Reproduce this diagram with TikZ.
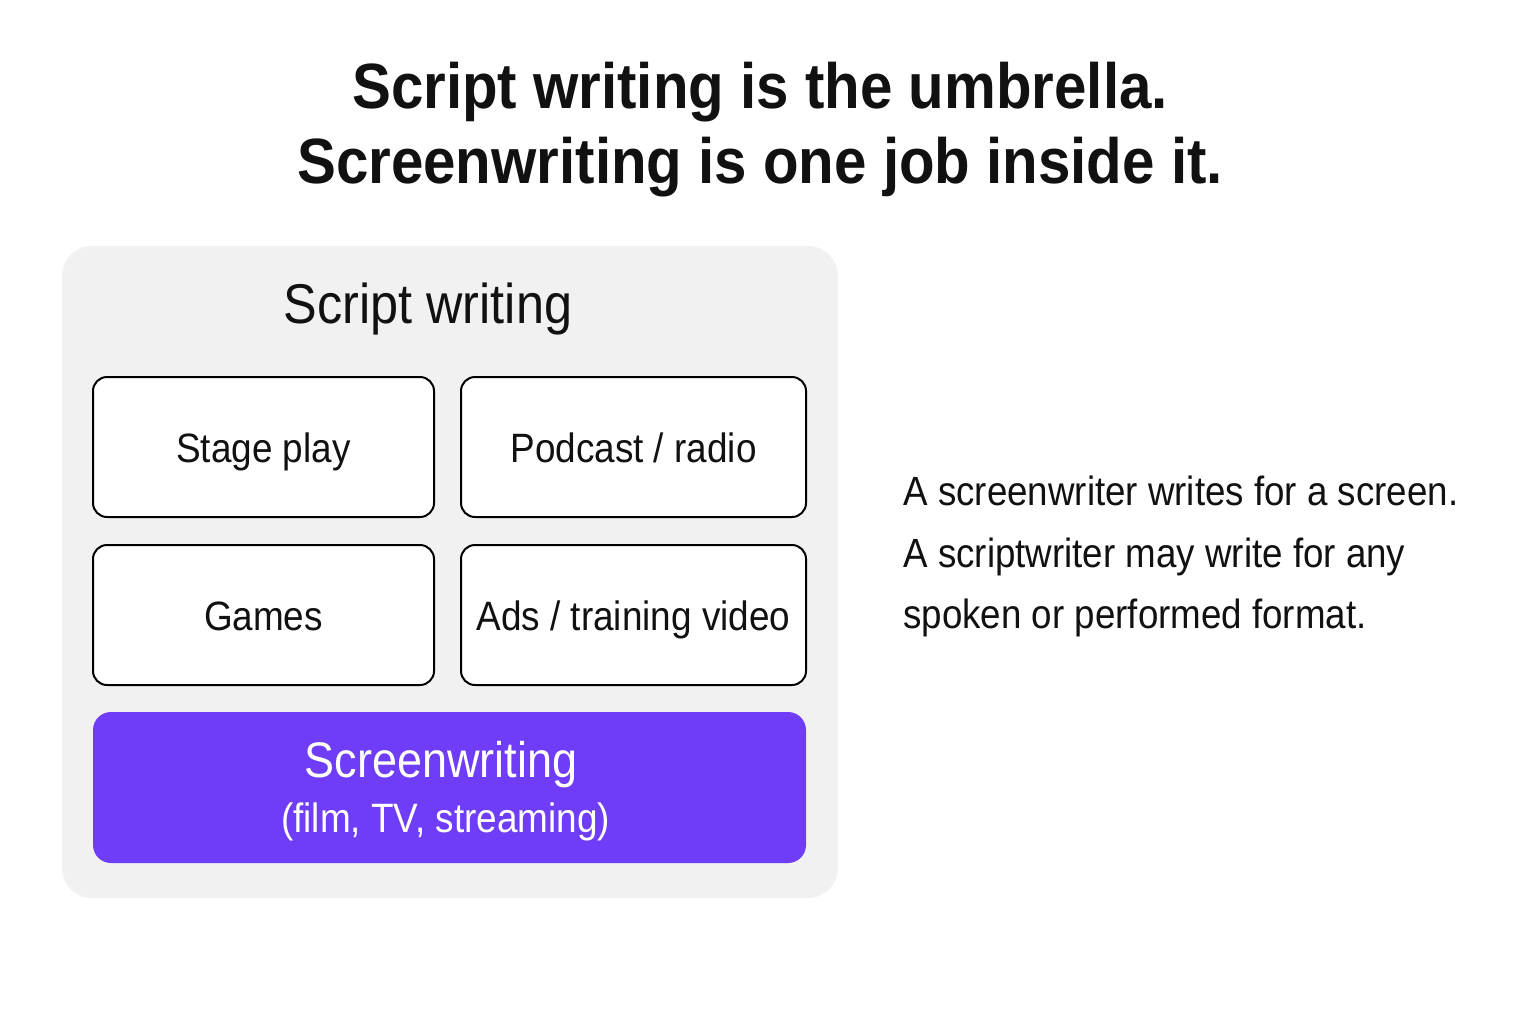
\documentclass[tikz,border=0pt]{standalone}
\usepackage{fontspec}
\setmainfont[FakeStretch=0.9]{Liberation Sans}
\newfontfamily\headfont[FakeStretch=0.91]{Liberation Sans}
\usepackage{tikz}
\usetikzlibrary{positioning}
\definecolor{panelgray}{HTML}{F1F1F1}
\definecolor{screenviolet}{HTML}{6F3DF8}
\definecolor{inkblack}{HTML}{111111}
\tikzset{
    headline/.style={anchor=base, text=inkblack, font=\headfont\bfseries\fontsize{32}{38}\selectfont},
    panel/.style={fill=panelgray, rounded corners=15pt, minimum width=388pt, minimum height=326pt, inner sep=0pt},
    genre/.style={draw=black, line width=1pt, fill=white, rounded corners=7pt, text=inkblack,
        minimum width=#1, minimum height=70pt, inner sep=0pt, text height=20pt, text depth=5pt,
        font=\fontsize{20.5}{24}\selectfont},
    genre/.default={170.5pt},
    screenbox/.style={fill=screenviolet, rounded corners=9pt, minimum width=356.5pt, minimum height=75.5pt, inner sep=0pt},
    note/.style={anchor=base west, text=inkblack, inner sep=0pt, font=\fontsize{20.4}{24}\selectfont},
}
\begin{document}
\begin{tikzpicture}[x=0.5pt,y=-0.5pt]
    \useasboundingbox[fill=white] (0,0) rectangle (1536,1024);
    % heading
    \node[headline] (head1) at (760,108) {Script writing is the umbrella.};
    \node[headline] (head2) at (760,183) {Screenwriting is one job inside it.};
    % umbrella panel
    \node[panel] (umbrella) at (450,572) {};
    \node[anchor=base, text=inkblack, font=\fontsize{28}{34}\selectfont] (umbrellalabel) at (428,323) {Script writing};
    \node[genre] (stage) at (263.5,447) {Stage play};
    \node[genre=172.5pt] (podcast) at (633.5,447) {Podcast / radio};
    \node[genre] (games) at (263.5,615) {Games};
    \node[genre=172.5pt] (ads) at (633.5,615) {Ads / training video};
    \node[screenbox] (screen) at (449.5,787.5) {};
    \node[anchor=base, text=white, font=\fontsize{25}{30}\selectfont] (screenname) at (441,777) {Screenwriting};
    \node[anchor=base, text=white, font=\fontsize{20.5}{24}\selectfont] (screenkinds) at (445.5,832) {(film, TV, streaming)};
    % side note
    \node[note] (note1) at (903,505) {A screenwriter writes for a screen.};
    \node[note] (note2) at (903,567) {A scriptwriter may write for any};
    \node[note] (note3) at (903,628) {spoken or performed format.};
\end{tikzpicture}
\end{document}
